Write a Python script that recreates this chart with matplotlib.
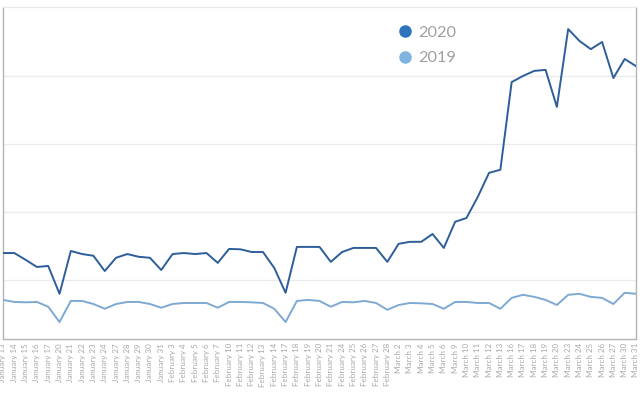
import matplotlib
matplotlib.use("Agg")
import matplotlib.pyplot as plt
from matplotlib.lines import Line2D

dates = ["January 13", "January 14", "January 15", "January 16", "January 17",
         "January 20", "January 21", "January 22", "January 23", "January 24",
         "January 27", "January 28", "January 29", "January 30", "January 31",
         "February 3", "February 4", "February 5", "February 6", "February 7",
         "February 10", "February 11", "February 12", "February 13", "February 14",
         "February 17", "February 18", "February 19", "February 20", "February 21",
         "February 24", "February 25", "February 26", "February 27", "February 28",
         "March 2", "March 3", "March 4", "March 5", "March 6",
         "March 9", "March 10", "March 11", "March 12", "March 13",
         "March 16", "March 17", "March 18", "March 19", "March 20",
         "March 23", "March 24", "March 25", "March 26", "March 27",
         "March 30", "March 31"]

values_2020 = [27.9, 27.9, 25.9, 23.8, 24.1, 15.9, 28.5, 27.6, 27.1, 22.6,
               26.5, 27.6, 26.8, 26.5, 22.9, 27.6, 27.9, 27.6, 27.9, 25.0,
               29.1, 29.0, 28.2, 28.2, 23.5, 16.2, 29.7, 29.7, 29.7, 25.3,
               28.2, 29.4, 29.4, 29.4, 25.3, 30.6, 31.2, 31.2, 33.5, 29.4,
               37.1, 38.2, 44.4, 51.5, 52.4, 78.2, 80.0, 81.5, 81.8, 70.9,
               93.8, 90.3, 87.9, 90.0, 79.4, 85.0, 82.9]

values_2019 = [14.1, 13.5, 13.4, 13.5, 12.1, 7.6, 13.8, 13.8, 12.9, 11.5,
               12.9, 13.5, 13.5, 12.9, 11.8, 12.9, 13.2, 13.2, 13.2, 11.8,
               13.5, 13.5, 13.4, 13.2, 11.5, 7.6, 13.8, 14.1, 13.8, 12.1,
               13.5, 13.4, 13.8, 13.2, 11.2, 12.6, 13.2, 13.1, 12.9, 11.5,
               13.5, 13.5, 13.2, 13.2, 11.5, 14.7, 15.6, 15.0, 14.1, 12.6,
               15.6, 15.9, 15.0, 14.7, 12.9, 16.2, 15.9]

series_names = ["2020", "2019"]
line_colors = ["#2d5e9a", "#7ea9d2"]
marker_colors = ["#2e74bd", "#7fb4e0"]

plt.rcParams['font.family'] = ['Lato', 'DejaVu Sans']

fig = plt.figure(figsize=(6.4, 3.95), dpi=100)
ax = fig.add_axes([3/640, 1 - 339/395, 633/640, 332/395])

x = list(range(len(dates)))
ax.plot(x, values_2020, color=line_colors[0], lw=1.4, zorder=3)
ax.plot(x, values_2019, color=line_colors[1], lw=1.4, zorder=3)

ax.set_xlim(0, len(dates) - 1)
ax.set_ylim(2.6, 100.3)
ax.set_yticks([20, 40, 60, 80])
ax.yaxis.grid(True, color="#ebebeb", lw=0.9)
ax.set_axisbelow(True)
ax.tick_params(axis='y', left=False, labelleft=False)
ax.set_xticks(x)
ax.set_xticklabels(dates, rotation=90, fontsize=5.8, color="#a8a8a8")
ax.tick_params(axis='x', length=0, pad=3)

for s in ["left", "bottom", "right"]:
    ax.spines[s].set_color("#b5b5b5")
    ax.spines[s].set_linewidth(1.0)
ax.spines["top"].set_color("#e8e8e8")
ax.spines["top"].set_linewidth(0.9)

handles = [Line2D([], [], ls="none", marker="o", markersize=8,
                  markerfacecolor=c, markeredgecolor=c) for c in marker_colors]
leg = ax.legend(handles, series_names, loc="upper left",
                bbox_to_anchor=(0.597, 0.99), frameon=False,
                fontsize=11.8, labelcolor="#a0a0a0", handletextpad=0.15,
                labelspacing=0.7, handlelength=1.2)

fig.savefig("out.png", dpi=100)
